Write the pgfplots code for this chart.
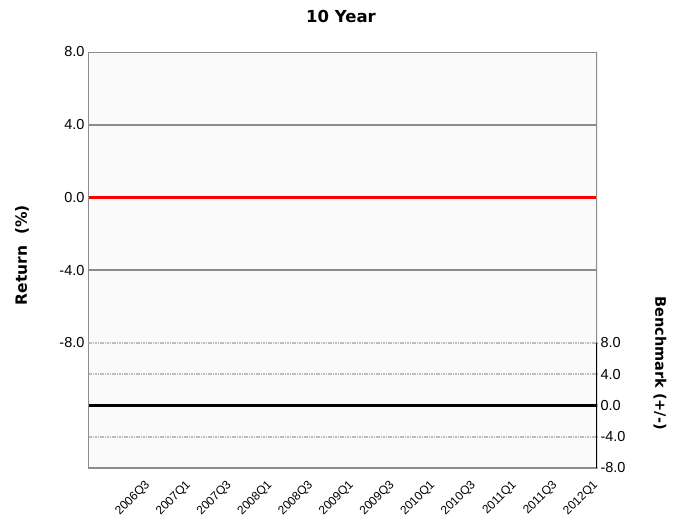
\documentclass[border=0pt]{standalone}
\usepackage{fontspec}
\setmainfont{Liberation Sans}
\newfontfamily\labelfont{DejaVu Sans}
\usepackage{pgfplots}
\pgfplotsset{compat=1.18}
\usepackage{pgfplotstable}

\definecolor{bgcol}{HTML}{FAFAFA}
\definecolor{framegray}{HTML}{8C8C8C}
\definecolor{dotgray}{HTML}{BDBDBD}
\definecolor{retred}{HTML}{FF0000}

% quarter index: 0 = 2005Q4 ... 25 = 2012Q1
\pgfplotstableread{
q  ret  bench
0  0.0  0.0
5  0.0  0.0
10 0.0  0.0
15 0.0  0.0
20 0.0  0.0
25 0.0  0.0
}\quarterdata

\begin{document}
\begin{tikzpicture}
\useasboundingbox (0pt,0pt) rectangle (677pt,-516pt);

\node[font=\labelfont\bfseries\fontsize{16.5}{18}\selectfont] at (341pt,-16pt) {10 Year};
\node[font=\labelfont\bfseries\fontsize{15.5}{17}\selectfont, rotate=90] at (22pt,-255pt) {Return~~(\%)};
\node[font=\labelfont\bfseries\fontsize{14.5}{17}\selectfont, rotate=-90] at (660pt,-363pt) {Benchmark (+/-)};

% upper panel: return
\begin{axis}[
  at={(88pt,-343pt)}, anchor=south west,
  width=509pt, height=291pt, scale only axis,
  xmin=0, xmax=25, ymin=-8, ymax=8,
  xtick=\empty,
  ytick={-4,4},
  extra y ticks={-8,0,8},
  extra y tick style={grid=none},
  major tick length=0pt,
  axis line style={draw=none},
  axis background/.style={fill=bgcol},
  ymajorgrids,
  grid style={framegray, line width=1.8pt},
  yticklabel style={font=\fontsize{14.5}{16}\selectfont},
  y tick label style={/pgf/number format/fixed, /pgf/number format/fixed zerofill, /pgf/number format/precision=1, /pgf/number format/assume math mode=true},
]
\addplot[draw=retred, line width=2.2pt] table[x=q, y=ret] {\quarterdata};
\draw[framegray, line width=2.2pt] (rel axis cs:0,0) -- (rel axis cs:0,1) -- (rel axis cs:1,1) -- (rel axis cs:1,0);
\end{axis}

% lower panel: benchmark difference
\begin{axis}[
  at={(88pt,-468pt)}, anchor=south west,
  width=509pt, height=125pt, scale only axis,
  xmin=0, xmax=25, ymin=-8, ymax=8,
  xtick={3,5,...,25},
  xticklabels={2006Q3,2007Q1,2007Q3,2008Q1,2008Q3,2009Q1,2009Q3,2010Q1,2010Q3,2011Q1,2011Q3,2012Q1},
  xticklabel style={rotate=45, anchor=east, font=\fontsize{12}{14}\selectfont, yshift=-10pt, xshift=-8pt},
  ytick={-8,-4,0,4,8},
  yticklabel pos=right,
  major tick length=0pt,
  axis line style={draw=none},
  axis background/.style={fill=bgcol},
  ymajorgrids,
  grid style={dotgray, line width=2.4pt, dash pattern=on 1.5pt off 0.9pt},
  yticklabel style={font=\fontsize{14.5}{16}\selectfont},
  y tick label style={/pgf/number format/fixed, /pgf/number format/fixed zerofill, /pgf/number format/precision=1, /pgf/number format/assume math mode=true},
]
\addplot[draw=black, line width=2.2pt] table[x=q, y=bench] {\quarterdata};
\draw[framegray, line width=2.2pt] (rel axis cs:0,1) -- (rel axis cs:0,0) -- (rel axis cs:1,0);
\draw[black, line width=2.4pt] (rel axis cs:1,0) -- (rel axis cs:1,1);
\end{axis}
\end{tikzpicture}
\end{document}
